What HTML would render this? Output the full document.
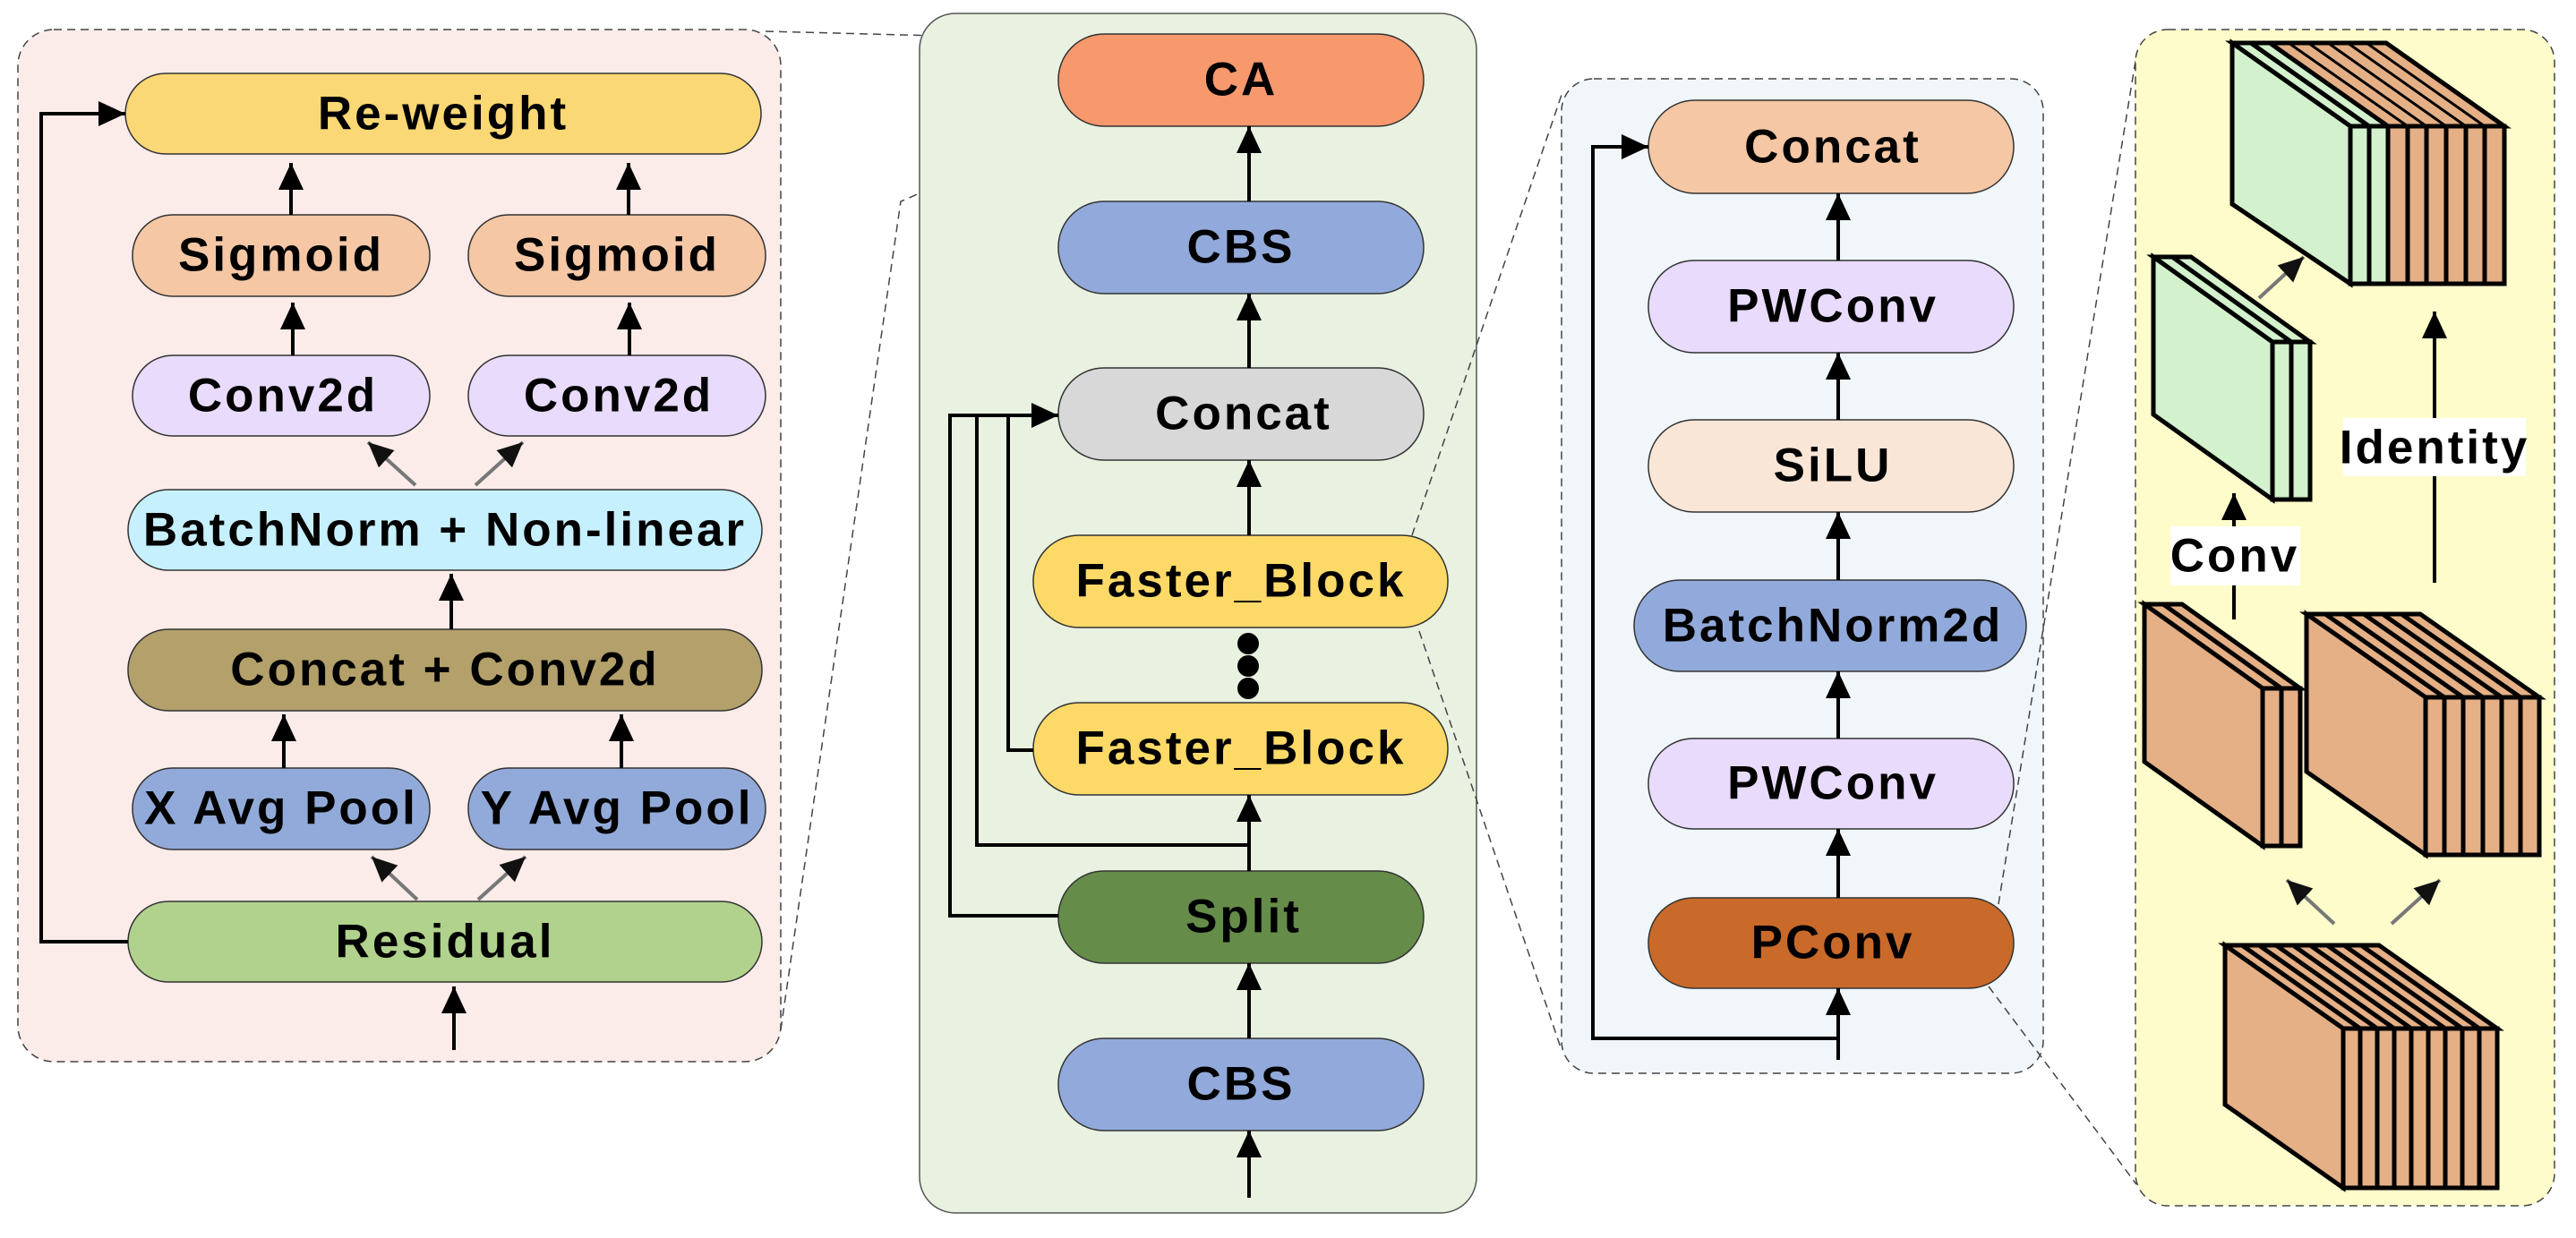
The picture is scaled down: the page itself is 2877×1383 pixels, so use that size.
<!DOCTYPE html>
<html><head><meta charset="utf-8"><style>
html,body{margin:0;padding:0;background:#fff;}
svg{display:block;}
text{font-family:"Liberation Sans",Arial,sans-serif;font-weight:bold;font-size:53px;letter-spacing:3px;text-anchor:middle;dominant-baseline:central;fill:#000;}
.b{stroke:#333;stroke-width:1.5;}
.ln{stroke:#000;stroke-width:4;fill:none;}
.gl{stroke:#777;stroke-width:4;fill:none;}
.dl{stroke:#444;stroke-width:1.5;stroke-dasharray:9,6;fill:none;}
.cb{stroke:#000;stroke-width:5;stroke-linejoin:miter;}
</style></head><body>
<svg width="2877" height="1383" viewBox="0 0 2877 1383" xmlns="http://www.w3.org/2000/svg">
<defs>
<marker id="a" markerUnits="userSpaceOnUse" markerWidth="32" markerHeight="32" refX="30" refY="14" orient="auto"><path d="M0,0 L30,14 L0,28 z" fill="#000"/></marker>
<marker id="g" markerUnits="userSpaceOnUse" markerWidth="30" markerHeight="30" refX="28" refY="13" orient="auto"><path d="M0,0 L28,13 L0,26 z" fill="#111"/></marker>
</defs>

<!-- LEFT PANEL -->
<rect x="20" y="33" width="852" height="1153" rx="40" class="dl" style="fill:#fbecea"/>
<rect x="140" y="82" width="710" height="90" rx="45" fill="#fad875" class="b"/><text x="495" y="127">Re-weight</text>
<rect x="148" y="240" width="332" height="91" rx="45" fill="#f5c7a5" class="b"/><text x="314" y="285">Sigmoid</text>
<rect x="523" y="240" width="332" height="91" rx="45" fill="#f5c7a5" class="b"/><text x="689" y="285">Sigmoid</text>
<rect x="148" y="397" width="332" height="90" rx="45" fill="#e8dbfb" class="b"/><text x="316" y="442">Conv2d</text>
<rect x="523" y="397" width="332" height="90" rx="45" fill="#e8dbfb" class="b"/><text x="691" y="442">Conv2d</text>
<rect x="143" y="547" width="708" height="90" rx="45" fill="#c6f0fd" class="b"/><text x="497" y="592">BatchNorm + Non-linear</text>
<rect x="143" y="703" width="708" height="91" rx="45" fill="#b3a06a" class="b"/><text x="497" y="748">Concat + Conv2d</text>
<rect x="148" y="858" width="332" height="91" rx="45" fill="#92aad9" class="b"/><text x="314" y="903">X Avg Pool</text>
<rect x="523" y="858" width="332" height="91" rx="45" fill="#92aad9" class="b"/><text x="689" y="903">Y Avg Pool</text>
<rect x="143" y="1007" width="708" height="90" rx="45" fill="#b1d28d" class="b"/><text x="497" y="1052">Residual</text>

<path class="ln" d="M325,240 V182" marker-end="url(#a)"/>
<path class="ln" d="M702,240 V182" marker-end="url(#a)"/>
<path class="ln" d="M327,397 V338" marker-end="url(#a)"/>
<path class="ln" d="M703,397 V338" marker-end="url(#a)"/>
<path class="gl" d="M464,542 L411,494" marker-end="url(#g)"/>
<path class="gl" d="M531,542 L584,494" marker-end="url(#g)"/>
<path class="ln" d="M504,703 V641" marker-end="url(#a)"/>
<path class="ln" d="M317,858 V798" marker-end="url(#a)"/>
<path class="ln" d="M694,858 V798" marker-end="url(#a)"/>
<path class="gl" d="M466,1005 L415,957" marker-end="url(#g)"/>
<path class="gl" d="M534,1005 L587,957" marker-end="url(#g)"/>
<path class="ln" d="M507,1173 V1102" marker-end="url(#a)"/>
<path class="ln" d="M143,1052 H46 V127 H140" marker-end="url(#a)"/>

<path class="dl" d="M855,35 L1204,44"/>
<path class="dl" d="M872,1150 L1006,225 L1210,137"/>

<!-- MIDDLE PANEL -->
<rect x="1027" y="15" width="622" height="1340" rx="40" fill="#e9f1e1" stroke="#555" stroke-width="1.5"/>
<rect x="1182" y="38" width="408" height="103" rx="51" fill="#f7996d" class="b"/><text x="1386" y="89">CA</text>
<rect x="1182" y="225" width="408" height="103" rx="51" fill="#92aadb" class="b"/><text x="1386" y="276">CBS</text>
<rect x="1182" y="411" width="408" height="103" rx="51" fill="#d8d8d8" class="b"/><text x="1389" y="462">Concat</text>
<rect x="1154" y="598" width="463" height="103" rx="51" fill="#fdd968" class="b"/><text x="1386" y="649">Faster_Block</text>
<circle cx="1394" cy="719" r="12"/><circle cx="1394" cy="744" r="12"/><circle cx="1394" cy="769" r="12"/>
<rect x="1154" y="785" width="463" height="103" rx="51" fill="#fdd968" class="b"/><text x="1386" y="836">Faster_Block</text>
<rect x="1182" y="973" width="408" height="103" rx="51" fill="#668c4a" class="b"/><text x="1389" y="1024">Split</text>
<rect x="1182" y="1160" width="408" height="103" rx="51" fill="#92aadb" class="b"/><text x="1386" y="1211">CBS</text>

<path class="ln" d="M1395,225 V141" marker-end="url(#a)"/>
<path class="ln" d="M1395,411 V328" marker-end="url(#a)"/>
<path class="ln" d="M1395,598 V514" marker-end="url(#a)"/>
<path class="ln" d="M1395,973 V888" marker-end="url(#a)"/>
<path class="ln" d="M1395,1160 V1076" marker-end="url(#a)"/>
<path class="ln" d="M1395,1338 V1263" marker-end="url(#a)"/>
<path class="ln" d="M1059,464 H1182" marker-end="url(#a)"/>
<path class="ln" d="M1182,1023 H1061 V464"/>
<path class="ln" d="M1395,944 H1091 V464"/>
<path class="ln" d="M1154,838 H1126 V464"/>

<path class="dl" d="M1577,598 L1744,106"/>
<path class="dl" d="M1585,705 L1744,1173"/>

<!-- RIGHT-MID PANEL -->
<rect x="1744" y="88" width="538" height="1111" rx="36" class="dl" style="fill:#f0f6fa"/>
<rect x="1841" y="112" width="408" height="104" rx="52" fill="#f5c7a5" class="b"/><text x="2047" y="164">Concat</text>
<rect x="1841" y="291" width="408" height="103" rx="51" fill="#e8dbfb" class="b"/><text x="2047" y="342">PWConv</text>
<rect x="1841" y="469" width="408" height="103" rx="51" fill="#fae6d7" class="b"/><text x="2047" y="520">SiLU</text>
<rect x="1825" y="648" width="438" height="102" rx="51" fill="#92aadb" class="b"/><text x="2047" y="699">BatchNorm2d</text>
<rect x="1841" y="825" width="408" height="101" rx="50" fill="#e8dbfb" class="b"/><text x="2047" y="875">PWConv</text>
<rect x="1841" y="1003" width="408" height="101" rx="50" fill="#c96a2a" class="b"/><text x="2047" y="1053">PConv</text>

<path class="ln" d="M2053,291 V216" marker-end="url(#a)"/>
<path class="ln" d="M2053,469 V394" marker-end="url(#a)"/>
<path class="ln" d="M2053,648 V572" marker-end="url(#a)"/>
<path class="ln" d="M2053,825 V750" marker-end="url(#a)"/>
<path class="ln" d="M2053,1003 V926" marker-end="url(#a)"/>
<path class="ln" d="M2053,1184 V1104" marker-end="url(#a)"/>
<path class="ln" d="M2053,1160 H1779 V164 H1841" marker-end="url(#a)"/>

<path class="dl" d="M2232,1010 L2386,62"/>
<path class="dl" d="M2221,1102 L2386,1323"/>

<!-- RIGHT PANEL -->
<rect x="2385" y="33" width="468" height="1314" rx="36" class="dl" style="fill:#fefccb"/>

<g class="cb">
<polygon points="2493,48 2665,48 2797,141 2625,141" fill="#e5b086"/>
<polygon points="2493,48 2514,48 2646,141 2625,141" fill="#d2f1cc"/>
<polygon points="2514,48 2535,48 2667,141 2646,141" fill="#d2f1cc"/>
<path d="M2556,48 L2689,141 M2578,48 L2710,141 M2600,48 L2732,141 M2622,48 L2754,141 M2643,48 L2775,141" fill="none" stroke-width="3"/>
<polygon points="2493,48 2625,141 2625,317 2493,228" fill="#d2f1cc"/>
<rect x="2625" y="141" width="42" height="176" fill="#d2f1cc"/>
<rect x="2667" y="141" width="130" height="176" fill="#e5b086"/>
<path d="M2646,141 V317 M2667,141 V317 M2689,141 V317 M2710,141 V317 M2732,141 V317 M2754,141 V317 M2775,141 V317" fill="none"/>
</g>
<g class="cb">
<polygon points="2405,287 2447,287 2580,382 2538,382" fill="#d2f1cc"/>
<polygon points="2405,287 2538,382 2538,558 2405,463" fill="#d2f1cc"/>
<rect x="2538" y="382" width="42" height="176" fill="#d2f1cc"/>
<path d="M2559,382 V558 M2426,287 L2559,382" fill="none"/>
</g>
<g class="cb">
<polygon points="2395,675 2437,675 2569,769 2527,769" fill="#e5b086"/>
<polygon points="2395,675 2527,769 2527,945 2395,851" fill="#e5b086"/>
<rect x="2527" y="769" width="42" height="176" fill="#e5b086"/>
<path d="M2548,769 V945 M2416,675 L2548,769" fill="none"/>
</g>
<g class="cb">
<polygon points="2576,686 2703,686 2836,779 2709,779" fill="#e5b086"/>
<polygon points="2576,686 2709,779 2709,955 2576,862" fill="#e5b086"/>
<rect x="2709" y="779" width="127" height="176" fill="#e5b086"/>
<path d="M2730,779 V955 M2751,779 V955 M2773,779 V955 M2794,779 V955 M2815,779 V955 M2597,686 L2730,779 M2618,686 L2751,779 M2640,686 L2773,779 M2661,686 L2794,779 M2682,686 L2815,779" fill="none"/>
</g>
<g class="cb">
<polygon points="2485,1056 2657,1056 2789,1149 2617,1149" fill="#e5b086"/>
<polygon points="2485,1056 2617,1149 2617,1327 2485,1234" fill="#e5b086"/>
<rect x="2617" y="1149" width="172" height="178" fill="#e5b086"/>
<path d="M2636,1149 V1327 M2655,1149 V1327 M2674,1149 V1327 M2693,1149 V1327 M2712,1149 V1327 M2731,1149 V1327 M2750,1149 V1327 M2769,1149 V1327 M2504,1056 L2636,1149 M2523,1056 L2655,1149 M2542,1056 L2674,1149 M2561,1056 L2693,1149 M2580,1056 L2712,1149 M2599,1056 L2731,1149 M2618,1056 L2750,1149 M2637,1056 L2769,1149" fill="none"/>
</g>

<path class="gl" d="M2523,333 L2573,287" marker-end="url(#g)"/>
<path class="gl" d="M2607,1032 L2554,983" marker-end="url(#g)"/>
<path class="gl" d="M2671,1032 L2725,983" marker-end="url(#g)"/>
<path class="ln" d="M2495,692 V551" marker-end="url(#a)"/>
<path class="ln" d="M2719,651 V348" marker-end="url(#a)"/>
<rect x="2424" y="588" width="145" height="66" fill="#fff"/><text x="2496" y="621">Conv</text>
<rect x="2617" y="467" width="204" height="65" fill="#fff"/><text x="2719" y="500">Identity</text>
</svg>
</body></html>
